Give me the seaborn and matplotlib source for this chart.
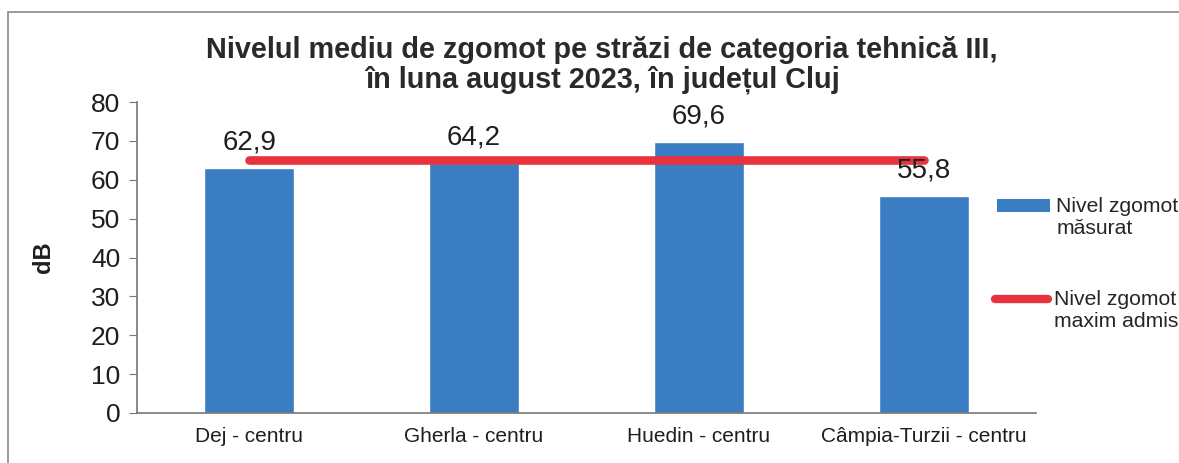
import matplotlib
matplotlib.use("Agg")
import matplotlib.pyplot as plt
import seaborn as sns
import numpy as np
import pandas as pd
from matplotlib.patches import Patch, Rectangle
from matplotlib.lines import Line2D

categories = ["Dej - centru", "Gherla - centru", "Huedin - centru", "Câmpia-Turzii - centru"]
measured = [62.9, 64.2, 69.6, 55.8]
limit = [65, 65, 65, 65]
value_labels = ["62,9", "64,2", "69,6", "55,8"]
yticks = [0, 10, 20, 30, 40, 50, 60, 70, 80]
title = "Nivelul mediu de zgomot pe străzi de categoria tehnică III,\nîn luna august 2023, în județul Cluj"
legend_labels = ["Nivel zgomot\nmăsurat", "Nivel zgomot\nmaxim admis"]

sns.set_style("white")
plt.rcParams["font.family"] = ["Liberation Sans", "DejaVu Sans"]

BLUE = "#3b7dc2"
RED = "#e8333f"
TXT = "#1e1e1e"

W, H = 1179, 463
fig = plt.figure(figsize=(W / 100, H / 100), dpi=100)
ax = fig.add_axes([137 / W, 1 - 413 / H, (1036 - 137) / W, (413 - 102) / H])

df = pd.DataFrame({"cat": categories, "val": measured})
sns.barplot(data=df, x="cat", y="val", color=BLUE, width=0.4, saturation=1, ax=ax, zorder=2)
sns.lineplot(x=np.arange(len(categories)), y=limit, color=RED, linewidth=6.2, ax=ax,
             solid_capstyle="round", zorder=3)

for i, (v, lab) in enumerate(zip(measured, value_labels)):
    ax.annotate(lab, (i, v), xytext=(0, 9), textcoords="offset points",
                ha="center", va="bottom", fontsize=20, color=TXT)

ax.set_xlim(-0.5, 3.5)
ax.set_ylim(0, 80)
ax.set_yticks(yticks)
ax.set_yticklabels([str(t) for t in yticks], fontsize=19, color=TXT)
ax.set_xticks(np.arange(len(categories)))
ax.set_xticklabels(categories, fontsize=15, color=TXT)
ax.set_xticks(np.arange(-0.5, len(categories), 1.0), minor=True)
ax.tick_params(axis="x", which="major", length=0, pad=10)
ax.tick_params(axis="x", which="minor", length=6, color="#777777", direction="out")
ax.tick_params(axis="y", length=6, color="#777777", direction="out", pad=6, left=True)
ax.set_xlabel("")
ax.set_ylabel("dB", fontsize=17, fontweight="bold", color=TXT, labelpad=26)
for s in ["top", "right"]:
    ax.spines[s].set_visible(False)
for s in ["left", "bottom"]:
    ax.spines[s].set_color("#777777")
    ax.spines[s].set_linewidth(1.2)
ax.grid(False)

fig.text(602 / W, 1 - 88 / H, title, ha="center", va="baseline", fontsize=20.8,
         fontweight="bold", color="#2a2a2a", linespacing=1.1)

handles = [Patch(facecolor=BLUE, edgecolor="none"),
           Line2D([0], [0], color=RED, linewidth=6, solid_capstyle="round")]
leg = fig.legend(handles, legend_labels, loc="upper left", bbox_to_anchor=(995 / W, 1 - 197 / H),
                 frameon=False, fontsize=15.2, handlelength=2.5, handleheight=0.6,
                 handletextpad=0.3, labelspacing=2.45, borderpad=0, borderaxespad=0)
for hp in leg._legend_handle_box.get_children():
    hp.align = "top"
# lift handles so they line up with the first line of each label
dy = 8.6
hb = leg.legend_handles
hb[0].set_y(hb[0].get_y() + dy)
hb[1].set_ydata(np.asarray(hb[1].get_ydata()) + dy)

fig.patches.append(Rectangle((8 / W, -0.05), 1.2, 1 - 12 / H + 0.05, transform=fig.transFigure,
                             fill=False, edgecolor="#8a8a8a", linewidth=1.2))

fig.savefig("out.png", dpi=100, facecolor="white")
